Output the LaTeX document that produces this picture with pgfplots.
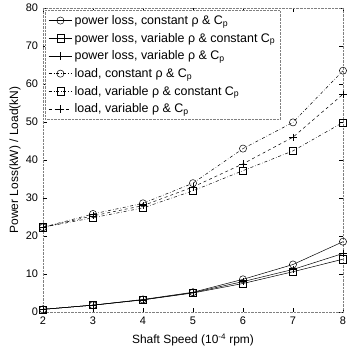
\documentclass[border=0pt]{standalone}
\usepackage{fontspec}
\setmainfont{Liberation Sans}
\usepackage{pgfplots}
\pgfplotsset{compat=1.18}
\begin{document}
\begin{tikzpicture}
\begin{axis}[
  scale only axis, width=300bp, height=304bp,
  xmin=2, xmax=8, ymin=0, ymax=80,
  xtick={2,3,4,5,6,7,8}, ytick={0,10,20,30,40,50,60,70,80},
  /pgf/number format/assume math mode=true,
  tick label style={font=\fontsize{11}{12}\selectfont},
  yticklabel style={xshift=-1.5bp},
  xticklabel style={yshift=-1bp},
  axis line style={gray, densely dotted},
  tick style={black, thin},
  tick align=inside,
  xlabel={Shaft Speed (10\textsuperscript{-4} rpm)},
  ylabel={Power Loss(kW) / Load(kN)},
  label style={font=\fontsize{12}{13}\selectfont},
  xlabel style={at={(axis description cs:0.5,-0.092)}, anchor=center},
  ylabel style={at={(axis description cs:-0.093,0.5)}, anchor=center},
  legend style={draw=gray, densely dotted, font=\fontsize{12.5}{13}\selectfont, row sep=3.2pt,
    at={(0.007,0.993)}, anchor=north west, inner sep=3pt},
  legend image code/.code={%
    \draw[mark repeat=2,mark phase=2,#1] plot coordinates {(0cm,0cm) (0.42cm,0cm) (0.84cm,0cm)};},
  legend cell align=left,
  every axis plot/.append style={black, line width=0.5pt, mark size=3.6pt, mark options={solid, fill=white}},
]
\addplot[mark=o] coordinates {(2,0.7)(3,1.8)(4,3.3)(5,5.2)(6,8.6)(7,12.5)(8,18.5)};
\addlegendentry{power loss, constant ρ \& C\textsubscript{p}}
\addplot[mark=square] coordinates {(2,0.7)(3,1.8)(4,3.2)(5,5.0)(6,7.5)(7,10.6)(8,13.9)};
\addlegendentry{power loss, variable ρ \& constant C\textsubscript{p}}
\addplot[mark=+] coordinates {(2,0.7)(3,1.8)(4,3.2)(5,5.1)(6,8.0)(7,11.2)(8,15.4)};
\addlegendentry{power loss, variable ρ \& C\textsubscript{p}}
\addplot[mark=o, dashdotted] coordinates {(2,22.3)(3,25.8)(4,28.6)(5,33.9)(6,43.0)(7,49.9)(8,63.5)};
\addlegendentry{load, constant ρ \& C\textsubscript{p}}
\addplot[mark=square, dashdotted] coordinates {(2,22.3)(3,24.8)(4,27.4)(5,31.9)(6,37.2)(7,42.4)(8,49.9)};
\addlegendentry{load, variable ρ \& constant C\textsubscript{p}}
\addplot[mark=+, dashed] coordinates {(2,22.3)(3,25.3)(4,28.0)(5,32.9)(6,39.0)(7,46.0)(8,57.3)};
\addlegendentry{load, variable ρ \& C\textsubscript{p}}
\end{axis}
\path ([shift={(-43bp,-41bp)}]current axis.south west) ([shift={(4bp,8bp)}]current axis.north east);
\end{tikzpicture}
\end{document}
